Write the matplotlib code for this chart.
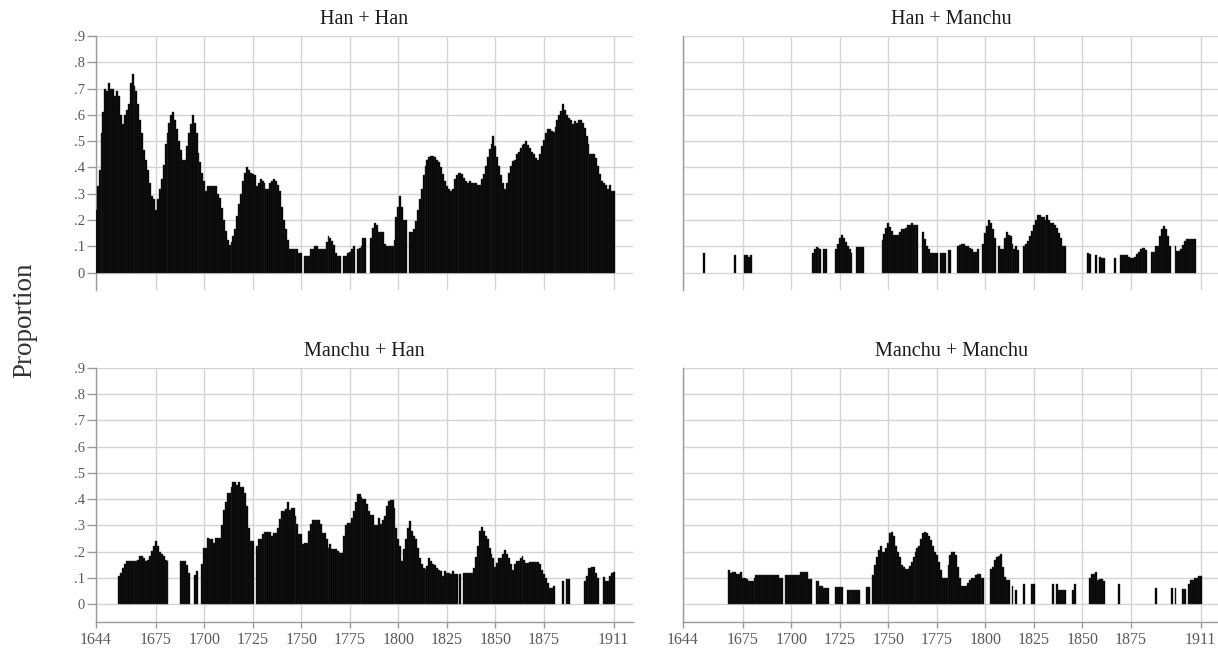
import numpy as np
import matplotlib
matplotlib.use("Agg")
import matplotlib.pyplot as plt

plt.rcParams["font.family"] = ["Liberation Serif", "DejaVu Serif"]

# ---------------------------------------------------------------------
# proportions par année, 1644 -> 1911 (0 = pas de barre)
FIRST_YEAR = 1644
LAST_YEAR = 1911

PANEL_TITLES = ["Han + Han", "Han + Manchu", "Manchu + Han", "Manchu + Manchu"]
X_TICKS = [1644, 1675, 1700, 1725, 1750, 1775, 1800, 1825, 1850, 1875, 1911]
Y_TICKS = [0, .1, .2, .3, .4, .5, .6, .7, .8, .9]
Y_TICK_LABELS = ["0", ".1", ".2", ".3", ".4", ".5", ".6", ".7", ".8", ".9"]

HAN_HAN = [
    .24, .33, .39, .53, .61, .70, .69, .72, .70, .70,          # 1644
    .67, .69, .67, .60, .565, .60, .62, .64, .72, .755,        # 1654
    .71, .69, .64, .58, .53, .465, .43, .39, .34, .29,         # 1664
    .28, .24, .28, .32, .355, .41, .49, .53, .57, .60,         # 1674
    .61, .58, .545, .50, .465, .43, .43, .48, .53, .565,       # 1684
    .60, .57, .53, .455, .42, .38, .35, .31, .33, .33,         # 1694
    .33, .33, .33, .30, .285, .245, .20, .16, .125, .105,      # 1704
    .115, .14, .165, .215, .26, .30, .35, .38, .40, .39,       # 1714
    .38, .375, .37, .33, .34, .355, .35, .34, .32, .32,        # 1724
    .34, .35, .355, .35, .335, .31, .25, .20, .165, .125,      # 1734
    .09, .09, .09, .09, .09, .075, .075, 0, .065, .065,        # 1744
    .065, .09, .09, .10, .10, .09, .09, .09, .09, .115,        # 1754
    .14, .13, .12, .105, .075, .065, .065, 0, .065, .065,      # 1764
    .075, .08, .09, .10, 0, .09, .095, .10, .13, .13,          # 1774
    0, 0, .13, .17, .19, .18, .155, .155, .155, .11,           # 1784
    .10, .10, .10, .10, .125, .21, .25, .29, .25, .20,         # 1794
    .20, 0, .155, .155, .165, .195, .24, .28, .32, .37,        # 1804
    .405, .43, .44, .445, .445, .44, .43, .42, .40, .375,      # 1814
    .35, .33, .32, .31, .32, .355, .37, .38, .38, .375,        # 1824
    .36, .35, .34, .35, .34, .34, .34, .335, .335, .355,       # 1834
    .375, .405, .44, .47, .49, .52, .48, .44, .405, .37,       # 1844
    .34, .32, .34, .38, .405, .425, .43, .45, .46, .475,       # 1854
    .485, .49, .50, .485, .475, .46, .45, .435, .43, .45,      # 1864
    .48, .505, .53, .545, .545, .54, .535, .555, .58, .60,     # 1874
    .615, .64, .62, .60, .59, .58, .565, .575, .57, .58,       # 1884
    .58, .57, .55, .52, .49, .45, .45, .45, .435, .405,        # 1894
    .375, .35, .34, .335, .32, .335, .31, .31,                 # 1904
]

HAN_MANCHU = [
    0, 0, 0, 0, 0, 0, 0, 0, 0, 0,                              # 1644
    0, .073, 0, 0, 0, 0, 0, 0, 0, 0,                           # 1654
    0, 0, 0, 0, 0, 0, 0, .068, 0, 0,                           # 1664
    0, 0, .066, .066, .058, .066, 0, 0, 0, 0,                  # 1674
    0, 0, 0, 0, 0, 0, 0, 0, 0, 0,                              # 1684
    0, 0, 0, 0, 0, 0, 0, 0, 0, 0,                              # 1694
    0, 0, 0, 0, 0, 0, 0, .076, .09, .099,                      # 1704
    .095, .089, 0, .089, .089, 0, 0, 0, 0, .09,                # 1714
    .11, .13, .143, .13, .115, .10, .09, .076, 0, 0,           # 1724
    .099, .099, .099, .099, 0, 0, 0, 0, 0, 0,                  # 1734
    0, 0, 0, .123, .146, .17, .187, .175, .16, .143,           # 1744
    .143, .143, .155, .167, .167, .17, .18, .18, .187, .18,    # 1754
    .18, .18, 0, 0, .154, .127, .10, .089, .076, .076,         # 1764
    .076, .076, 0, .076, .076, .076, 0, .086, .086, 0,         # 1774
    0, 0, .10, .105, .11, .11, .10, .10, .095, .09,            # 1784
    .08, .08, .09, 0, 0, .11, .15, .177, .199, .19,            # 1794
    .165, .13, 0, .10, .09, .09, .13, .155, .145, .14,         # 1804
    .11, .09, .10, .085, 0, 0, .10, .11, .12, .14,             # 1814
    .16, .18, .20, .22, .22, .21, .21, .20, .22, .20,          # 1824
    .19, .19, .18, .17, .15, .13, .10, .10, 0, 0,              # 1834
    0, 0, 0, 0, 0, 0, 0, 0, 0, .076,                           # 1844
    .07, 0, 0, .066, 0, .06, .057, .057, 0, 0,                 # 1854
    0, 0, 0, .057, 0, 0, .066, .066, .066, .066,               # 1864
    .06, .056, .056, .06, .07, .08, .09, .095, .095, .085,     # 1874
    0, 0, .08, .08, .10, .10, .14, .165, .177, .165,           # 1884
    .14, .10, 0, 0, .10, .082, .082, .09, .107, .12,           # 1894
    .127, .127, .127, .127, .127, 0, 0, 0,                     # 1904
]

MANCHU_HAN = [
    0, 0, 0, 0, 0, 0, 0, 0, 0, 0,                              # 1644
    0, 0, .108, .12, .14, .152, .163, .163, .163, .163,        # 1654
    .163, .163, .17, .184, .184, .178, .165, .17, .184, .203,  # 1664
    .222, .24, .222, .20, .19, .184, .17, .163, 0, 0,          # 1674
    0, 0, 0, 0, .163, .163, .163, .15, .12, 0,                 # 1684
    0, .11, .125, 0, 0, .152, .216, .216, .254, .25,           # 1694
    .25, .235, .254, .254, .254, .30, .36, .39, .425, .425,    # 1704
    .447, .464, .464, .455, .464, .445, .445, .425, .375, .29, # 1714
    .24, .24, 0, .222, .248, .248, .267, .277, .277, .277,     # 1724
    .277, .26, .273, .273, .29, .324, .356, .356, .362, .388,  # 1734
    .358, .366, .366, .337, .305, .267, .267, .23, .235, .235, # 1744
    .28, .305, .32, .32, .32, .32, .305, .273, .273, .248,     # 1754
    .216, .229, .21, .21, .21, .203, .197, .197, .26, .30,     # 1764
    .31, .31, .33, .356, .388, .42, .42, .41, .40, .40,        # 1774
    .38, .356, .34, .34, .30, .30, .33, .305, .32, .337,       # 1784
    .375, .394, .397, .397, .366, .29, .25, .22, .165, .21,    # 1794
    .248, .29, .318, .28, .26, .248, .216, .178, .152, .14,    # 1804
    .133, .145, .175, .165, .152, .15, .14, .13, .127, .108,   # 1814
    .127, .12, .12, .114, .127, .114, .114, 0, .114, 0,        # 1824
    .118, .118, .118, .118, .118, .14, .18, .222, .28, .295,   # 1834
    .28, .26, .248, .216, .193, .178, .142, .159, .175, .175,  # 1844
    .19, .206, .19, .178, .152, .13, .152, .165, .165, .178,   # 1854
    .184, .17, .159, .159, .161, .161, .161, .161, .161, .152, # 1864
    .13, .117, .10, .083, .064, .064, .07, 0, 0, 0,            # 1874
    0, .09, 0, .095, .095, 0, 0, 0, 0, 0,                      # 1884
    0, 0, .089, .108, .14, .14, .143, .143, .12, .10,          # 1894
    0, 0, .104, .089, .089, .108, .12, .124,                   # 1904
]

MANCHU_MANCHU = [
    0, 0, 0, 0, 0, 0, 0, 0, 0, 0,                              # 1644
    0, 0, 0, 0, 0, 0, 0, 0, 0, 0,                              # 1654
    0, 0, 0, 0, .13, .12, .123, .123, .114, .114,              # 1664
    .123, .10, .10, .095, .088, .088, .088, .10, .11, .11,     # 1674
    .11, .11, .11, .11, .11, .11, .11, .11, .11, .11,          # 1684
    .10, .10, 0, .11, .11, .11, .11, .11, .11, .11,            # 1694
    .11, .123, .123, .123, .123, .097, .097, 0, 0, .088,       # 1704
    .088, .068, .068, .063, .063, .063, 0, 0, 0, .065,         # 1714
    .065, .065, .065, 0, 0, .055, .055, .055, .055, .055,      # 1724
    .055, .055, 0, 0, 0, .065, .065, 0, .11, .149,             # 1734
    .18, .206, .222, .20, .20, .215, .232, .27, .277, .26,     # 1744
    .22, .20, .18, .149, .142, .136, .136, .145, .16, .18,     # 1754
    .20, .213, .22, .25, .27, .277, .27, .26, .245, .22,       # 1764
    .20, .187, .16, .13, .10, .10, .10, .149, .187, .20,       # 1774
    .20, .187, .142, .10, .07, .068, .068, .08, .091, .10,     # 1784
    .10, .11, .114, .114, .10, .10, 0, 0, 0, .136,             # 1794
    .142, .168, .18, .185, .19, .142, .104, .091, .091, 0,     # 1804
    .068, 0, .055, 0, 0, 0, .078, 0, 0, 0,                     # 1814
    .078, .078, 0, 0, 0, 0, 0, 0, 0, 0,                        # 1824
    0, .078, 0, .076, .055, .055, .055, .055, 0, 0,            # 1834
    0, .055, .078, 0, 0, 0, 0, 0, 0, 0,                        # 1844
    .10, .114, .114, .123, .091, .097, .097, .088, 0, 0,       # 1854
    0, 0, 0, 0, 0, .076, 0, 0, 0, 0,                           # 1864
    0, 0, 0, 0, 0, 0, 0, 0, 0, 0,                              # 1874
    0, 0, 0, 0, .063, 0, 0, 0, 0, 0,                           # 1884
    0, 0, .063, 0, .063, 0, 0, 0, .059, .059,                  # 1894
    0, .078, .094, .094, .10, .10, .106, .106,                 # 1904
]

PNG_OUT = "out.png"

GRID_COLOR = "#d4d4d4"
AXIS_COLOR = "#9a9a9a"
LABEL_COLOR = "#595959"


def draw_panel(ax, values, title, show_yticks, show_xaxis):
    years = np.arange(FIRST_YEAR, LAST_YEAR + 1)
    vals = np.asarray(values, dtype=float)
    assert len(vals) == len(years)
    keep = vals > 0
    ax.bar(years[keep], vals[keep], width=1.0, color="black",
           edgecolor="#2b2b2b", linewidth=0.3, zorder=3)

    ax.set_xlim(1644, 1921.1)
    ax.set_ylim(-0.066, 0.9)
    ax.set_xticks(X_TICKS)
    ax.set_yticks(Y_TICKS)
    ax.grid(True, color=GRID_COLOR, linewidth=1.0, zorder=0)
    ax.set_axisbelow(True)

    for side in ("top", "right"):
        ax.spines[side].set_visible(False)
    ax.spines["left"].set_color(AXIS_COLOR)
    ax.spines["left"].set_linewidth(1.0)
    ax.spines["bottom"].set_color(AXIS_COLOR)
    ax.spines["bottom"].set_linewidth(1.0)

    if show_yticks:
        ax.set_yticklabels(Y_TICK_LABELS)
        ax.tick_params(axis="y", length=6.2, width=1.0, color=AXIS_COLOR,
                       labelcolor=LABEL_COLOR, labelsize=10.5, pad=1.5)
    else:
        ax.tick_params(axis="y", length=0, labelleft=False)

    if show_xaxis:
        ax.tick_params(axis="x", length=4.5, width=1.0, color=AXIS_COLOR,
                       labelcolor=LABEL_COLOR, labelsize=11.5, pad=3)
    else:
        ax.spines["bottom"].set_visible(False)
        ax.tick_params(axis="x", length=0, labelbottom=False)

    ax.text(0.5, 1.063, title, transform=ax.transAxes, ha="center",
            va="center", fontsize=14.5, color="#1a1a1a")


def main() -> None:
    fig = plt.figure(figsize=(12.18, 6.51), dpi=100)
    fig.patch.set_facecolor("white")

    W, H = 1218.0, 651.0
    left_x = 95.7 / W
    right_x = 682.7 / W
    width = 537.6 / W
    top_bottom = 1 - 290.0 / H
    bot_bottom = 1 - 621.7 / H
    height = 254.0 / H

    panels = [
        (left_x, top_bottom, HAN_HAN, PANEL_TITLES[0], True, False),
        (right_x, top_bottom, HAN_MANCHU, PANEL_TITLES[1], False, False),
        (left_x, bot_bottom, MANCHU_HAN, PANEL_TITLES[2], True, True),
        (right_x, bot_bottom, MANCHU_MANCHU, PANEL_TITLES[3], False, True),
    ]
    for x0, y0, vals, title, yt, xa in panels:
        ax = fig.add_axes([x0, y0, width, height])
        draw_panel(ax, vals, title, yt, xa)

    fig.text(25 / W, 1 - 320 / H, "Proportion", rotation=90, ha="center",
             va="center", fontsize=19.5, color="#333333")

    fig.savefig(PNG_OUT, dpi=100)


if __name__ == "__main__":
    main()
